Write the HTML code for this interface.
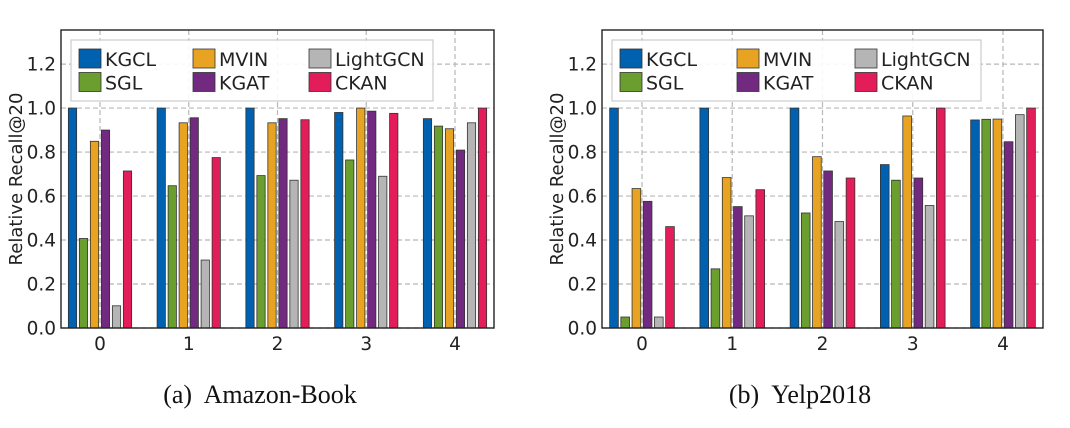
<!DOCTYPE html>
<html><head><meta charset="utf-8"><style>
body{margin:0;background:#fff;width:1070px;height:428px;overflow:hidden}
svg{display:block}
text{font-family:"DejaVu Sans","Liberation Sans",sans-serif;fill:#222}
.cap{font-family:"Liberation Serif",serif;font-size:26px;fill:#111;white-space:pre}
</style></head><body>
<svg id="chart" width="1070" height="428" viewBox="0 0 1070 428" xmlns="http://www.w3.org/2000/svg">
<text class="cap" x="260" y="403" text-anchor="middle" xml:space="preserve">(a)  Amazon-Book</text>
<text class="cap" x="800" y="403" text-anchor="middle" xml:space="preserve">(b)  Yelp2018</text>
</svg>
<script>
const categories = ["0","1","2","3","4"];
const seriesNames = ["KGCL","SGL","MVIN","KGAT","LightGCN","CKAN"];
const yTicks = [0.0,0.2,0.4,0.6,0.8,1.0,1.2];
const amazonKGCL = [1.0,1.0,1.0,0.980,0.952];
const amazonSGL = [0.407,0.647,0.693,0.764,0.918];
const amazonMVIN = [0.849,0.933,0.933,1.0,0.906];
const amazonKGAT = [0.900,0.956,0.952,0.986,0.809];
const amazonLightGCN = [0.101,0.309,0.672,0.690,0.933];
const amazonCKAN = [0.714,0.775,0.947,0.976,1.0];
const yelpKGCL = [1.0,1.0,1.0,0.743,0.946];
const yelpSGL = [0.05,0.269,0.523,0.672,0.949];
const yelpMVIN = [0.634,0.684,0.779,0.964,0.950];
const yelpKGAT = [0.576,0.552,0.714,0.682,0.847];
const yelpLightGCN = [0.05,0.510,0.484,0.557,0.970];
const yelpCKAN = [0.461,0.629,0.682,1.0,1.0];

const colors = ["#0061b0","#6a9e2f","#e8a322","#722a80","#b5b5b5","#e31d5a"];
const NS = "http://www.w3.org/2000/svg";
const svg = document.getElementById("chart");
function mk(tag, attrs, parent){
  const e = document.createElementNS(NS, tag);
  for (const k in attrs) e.setAttribute(k, attrs[k]);
  (parent||svg).appendChild(e);
  return e;
}
function drawPanel(cfg, series, prefix){
  const g = mk("g", {});
  
  
  const L=cfg.left, R=cfg.right, T=30, B=328, yMax=1.355;
  const y = v => B - v/yMax*(B-T);
  const x = i => L + cfg.pad + i*cfg.step;
  yTicks.forEach(t=>{
    const ln = mk("line",{x1:L,x2:R,y1:y(t),y2:y(t),stroke:"#b8b8b8","stroke-width":1.2,"stroke-dasharray":"5,3"},g);
    
    
    const tx = mk("text",{x:L-5,y:y(t)+6.5,"text-anchor":"end","font-size":18.5},g);
    tx.textContent = t.toFixed(1);
    
    
  });
  categories.forEach((c,i)=>{
    const ln = mk("line",{x1:x(i),x2:x(i),y1:T,y2:B,stroke:"#b8b8b8","stroke-width":1.2,"stroke-dasharray":"5,3"},g);
    
    
    const tx = mk("text",{x:x(i),y:350,"text-anchor":"middle","font-size":18.5},g);
    tx.textContent = c;
    
    
  });
  series.forEach((vals,s)=>{
    vals.forEach((v,i)=>{
      const cx = x(i) + (s-2.5)*cfg.pitch;
      const r = mk("rect",{x:cx-cfg.bw/2,y:y(v),width:cfg.bw,height:B-y(v),fill:colors[s],stroke:"#333","stroke-width":0.8},g);
      
      
    });
  });
  const fr = mk("rect",{x:L,y:T,width:R-L,height:B-T,fill:"none",stroke:"#222","stroke-width":1.4},g);
  
  
  const yl = mk("text",{x:0,y:0,"text-anchor":"middle","font-size":18,transform:`translate(${cfg.ylx},179) rotate(-90)`},g);
  yl.textContent = "Relative Recall@20";
  
  
  const lg = mk("g",{},g);
  
  
  const lb = mk("rect",{x:cfg.lgX,y:40,width:cfg.lgW,height:61,fill:"#fff","fill-opacity":0.9,stroke:"#ccc","stroke-width":1.2},lg);
  
  
  seriesNames.forEach((n,s)=>{
    const col = Math.floor(s/2), row = s%2;
    const px = cfg.lgCols[col], py = 49 + row*23.5;
    const p = mk("rect",{x:px,y:py,width:22,height:19,fill:colors[s],stroke:"#333","stroke-width":0.8},lg);
    
    
    const t = mk("text",{x:px+26,y:py+17,"font-size":19},lg);
    t.textContent = n;
    
    
  });
}
drawPanel({left:61,right:494,pad:39,step:88.75,pitch:11,bw:8.3,ylx:22,lgX:71,lgW:362,lgCols:[79,193,309]},
  [amazonKGCL,amazonSGL,amazonMVIN,amazonKGAT,amazonLightGCN,amazonCKAN],"amazon-book");
drawPanel({left:602,right:1043,pad:40,step:90.25,pitch:11.2,bw:8.7,ylx:563,lgX:612,lgW:369,lgCols:[620,737,855]},
  [yelpKGCL,yelpSGL,yelpMVIN,yelpKGAT,yelpLightGCN,yelpCKAN],"yelp2018");
</script>
</body></html>
